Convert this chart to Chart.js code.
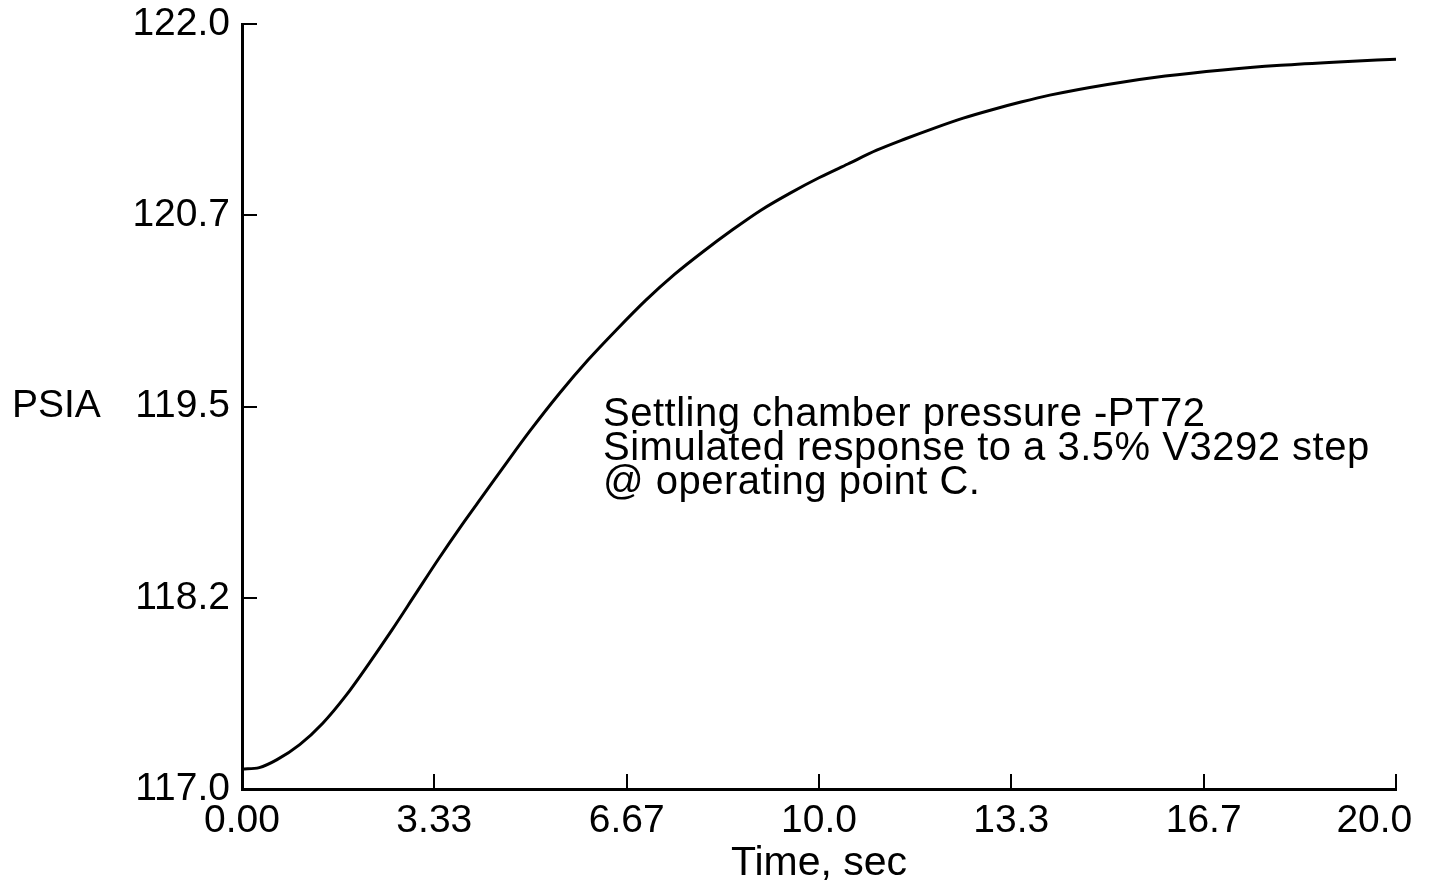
<!DOCTYPE html>
<html>
<head>
<meta charset="utf-8">
<title>PT72 step response</title>
<script src="https://cdn.jsdelivr.net/npm/chart.js@4.4.1/dist/chart.umd.min.js"></script>
<style>
  html, body { margin: 0; padding: 0; background: #fff; }
  #wrap { width: 1430px; height: 888px; }
</style>
</head>
<body>
<div id="wrap"><canvas id="chart" width="1430" height="888"></canvas></div>
<script>
// ── Data ──
const timeSec = [0, 0.3, 0.6, 1.0, 1.4, 1.8, 2.2, 2.6, 3.0, 3.4, 3.8, 4.2, 4.6, 5.0, 5.5,
  6.0, 6.5, 7.0, 7.5, 8.0, 8.5, 9.0, 9.5, 10.0, 10.5, 11.0, 11.5, 12.0, 12.5, 13.0,
  13.5, 14.0, 15.0, 16.0, 17.0, 18.0, 19.0, 20.0];
const psia = [117.13, 117.14, 117.19, 117.29, 117.43, 117.61, 117.82, 118.04, 118.27, 118.5,
  118.72, 118.93, 119.14, 119.345, 119.585, 119.805, 120.005, 120.195, 120.365, 120.515,
  120.655, 120.785, 120.895, 120.995, 121.085, 121.175, 121.25, 121.32, 121.385, 121.44,
  121.49, 121.535, 121.605, 121.66, 121.7, 121.73, 121.752, 121.77];

const xTickValues = [0, 3.333, 6.667, 10, 13.333, 16.667, 20];
const xTickLabels = ['0.00', '3.33', '6.67', '10.0', '13.3', '16.7', '20.0'];
const yTickValues = [117.0, 118.25, 119.5, 120.75, 122.0];
const yTickLabels = ['117.0', '118.2', '119.5', '120.7', '122.0'];

const noteLines = [
  'Settling chamber pressure -PT72',
  'Simulated response to a 3.5% V3292 step',
  '@ operating point C.'
];

const FONT = "'Liberation Sans', Arial, Helvetica, sans-serif";
const INK = '#000';

// ── Free text: PSIA label + annotation ──
const textPlugin = {
  id: 'freeText',
  afterDraw(chart) {
    const ctx = chart.ctx;
    const y = chart.scales.y;
    ctx.save();
    ctx.fillStyle = INK;
    ctx.font = `39px ${FONT}`;
    ctx.textAlign = 'left';
    ctx.textBaseline = 'middle';
    ctx.fillText('PSIA', 12, y.getPixelForValue(119.5));
    ctx.font = `40px ${FONT}`;
    ctx.letterSpacing = '0.5px';
    ctx.textBaseline = 'alphabetic';
    noteLines.forEach((t, i) => ctx.fillText(t, 603, 426 + i * 34));
    ctx.restore();
  }
};

const labelFrom = (vals, labels) => (v) => {
  const i = vals.findIndex(t => Math.abs(t - v) < 1e-6);
  return i >= 0 ? labels[i] : '';
};

new Chart(document.getElementById('chart'), {
  type: 'line',
  data: {
    datasets: [{
      data: timeSec.map((t, i) => ({ x: t, y: psia[i] })),
      borderColor: INK,
      borderWidth: 3,
      pointRadius: 0,
      fill: false,
      cubicInterpolationMode: 'monotone'
    }]
  },
  options: {
    responsive: false,
    animation: false,
    devicePixelRatio: 1,
    layout: { padding: 0 },
    plugins: { legend: { display: false }, tooltip: { enabled: false } },
    scales: {
      x: {
        type: 'linear',
        min: 0,
        max: 20,
        afterBuildTicks: s => { s.ticks = xTickValues.map(v => ({ value: v })); },
        afterFit: s => {
          s.height = 99;
          s.paddingLeft = 0;
          s.paddingRight = 34;
        },
        ticks: {
          // last label sits inside the frame, as in the original plot
          callback: v => {
            const t = labelFrom(xTickValues, xTickLabels)(v);
            return v === 20 ? t + '    ' : t;
          },
          color: INK,
          font: { family: FONT, size: 39 },
          padding: 24,
          maxRotation: 0,
          autoSkip: false
        },
        grid: { drawOnChartArea: false, drawTicks: true, tickLength: -15, color: INK, lineWidth: 2 },
        border: { display: true, color: INK, width: 3 },
        title: {
          display: true,
          text: 'Time, sec',
          color: INK,
          font: { family: FONT, size: 41 },
          padding: { top: 0, bottom: 0 }
        }
      },
      y: {
        min: 117,
        max: 122,
        afterBuildTicks: s => { s.ticks = yTickValues.map(v => ({ value: v })); },
        afterFit: s => {
          s.width = 242;
          s.paddingTop = 24;
          s.paddingBottom = 0;
        },
        ticks: {
          callback: labelFrom(yTickValues, yTickLabels),
          color: INK,
          font: { family: FONT, size: 39 },
          padding: 27,
          autoSkip: false
        },
        grid: { drawOnChartArea: false, drawTicks: true, tickLength: -15, color: INK, lineWidth: 2 },
        border: { display: true, color: INK, width: 3 }
      }
    }
  },
  plugins: [textPlugin]
});
</script>
</body>
</html>
